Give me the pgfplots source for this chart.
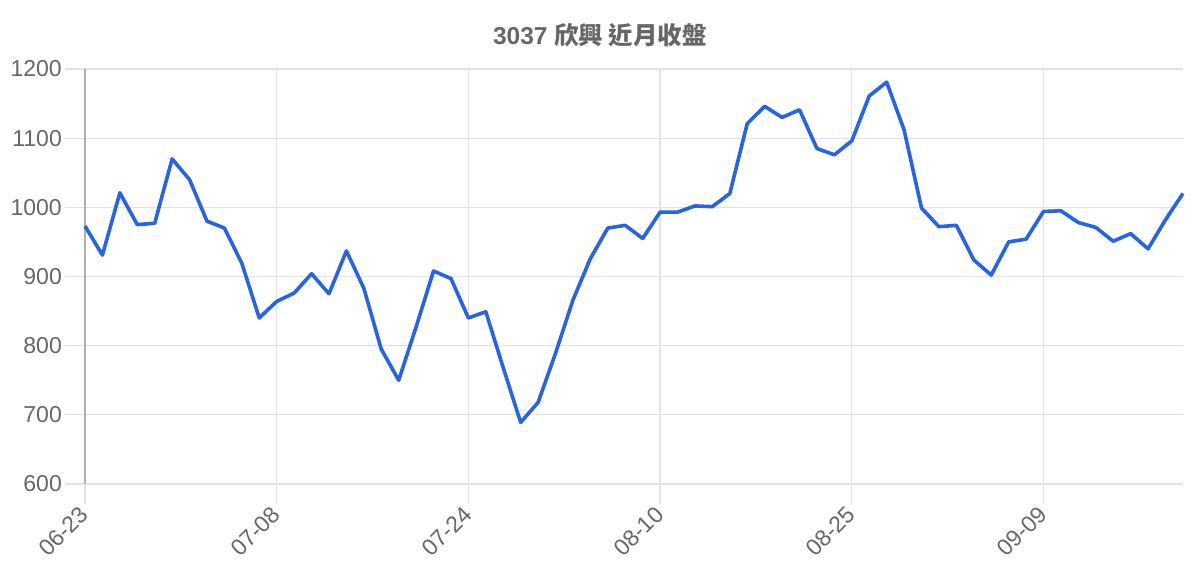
\documentclass[border=0pt]{standalone}
\usepackage{pgfplots}
\pgfplotsset{compat=1.18}
\usepackage{fontspec}
\setmainfont{Liberation Sans}
\newfontfamily\cjk{Noto Sans CJK TC}
\definecolor{lineblue}{HTML}{2563EB}
\definecolor{gridgray}{HTML}{E2E2E2}
\definecolor{axisgray}{HTML}{B0B0B0}
\definecolor{textgray}{HTML}{666666}

\pgfplotstableread{
idx close
0 973
1 931
2 1021
3 975
4 977
5 1070
6 1040
7 980
8 970
9 919
10 840
11 864
12 876
13 904
14 875
15 937
16 883
17 795
18 750
19 827
20 908
21 897
22 840
23 849
24 768
25 689
26 718
27 789
28 866
29 926
30 970
31 974
32 955
33 993
34 993
35 1002
36 1001
37 1020
38 1121
39 1146
40 1130
41 1141
42 1085
43 1076
44 1096
45 1161
46 1181
47 1112
48 999
49 972
50 974
51 924
52 902
53 950
54 954
55 994
56 995
57 978
58 971
59 951
60 962
61 940
62 982
63 1020
}\closes

\begin{document}
\begin{tikzpicture}
  \begin{axis}[
    at={(85pt,76pt)}, anchor=south west,
    scale only axis,
    width=1098pt, height=415pt,
    xmin=0, xmax=63,
    ymin=600, ymax=1200,
    ytick={600,700,...,1200},
    xtick={0,11,22,33,44,55},
    xticklabels={06-23,07-08,07-24,08-10,08-25,09-09},
    /pgf/number format/assume math mode=true,
    /pgf/number format/1000 sep={},
    axis lines*=left,
    x axis line style={draw=none},
    y axis line style={color=axisgray, line width=2pt},
    grid=major,
    major grid style={color=gridgray, line width=1.2pt},
    tick align=outside,
    major tick length=20pt,
    tick style={color=gridgray, line width=1.2pt},
    ticklabel style={font=\fontsize{23}{27}\selectfont, text=textgray},
    yticklabel style={inner sep=3pt},
    xticklabel style={rotate=45, anchor=north east, inner sep=1pt, xshift=-4pt, yshift=5pt},
    clip=false,
  ]
    \addplot[color=lineblue, line width=3.6pt, line join=round, mark=none]
      table[x=idx, y=close] {\closes};
  \end{axis}
  \node[text=textgray, font=\fontsize{24.5}{28}\selectfont\bfseries]
    at (600pt,525pt) {3037 {\cjk\bfseries 欣興 近月收盤}};
  \pgfresetboundingbox
  \path[use as bounding box] (0,0) rectangle (1200pt,560pt);
\end{tikzpicture}
\end{document}
